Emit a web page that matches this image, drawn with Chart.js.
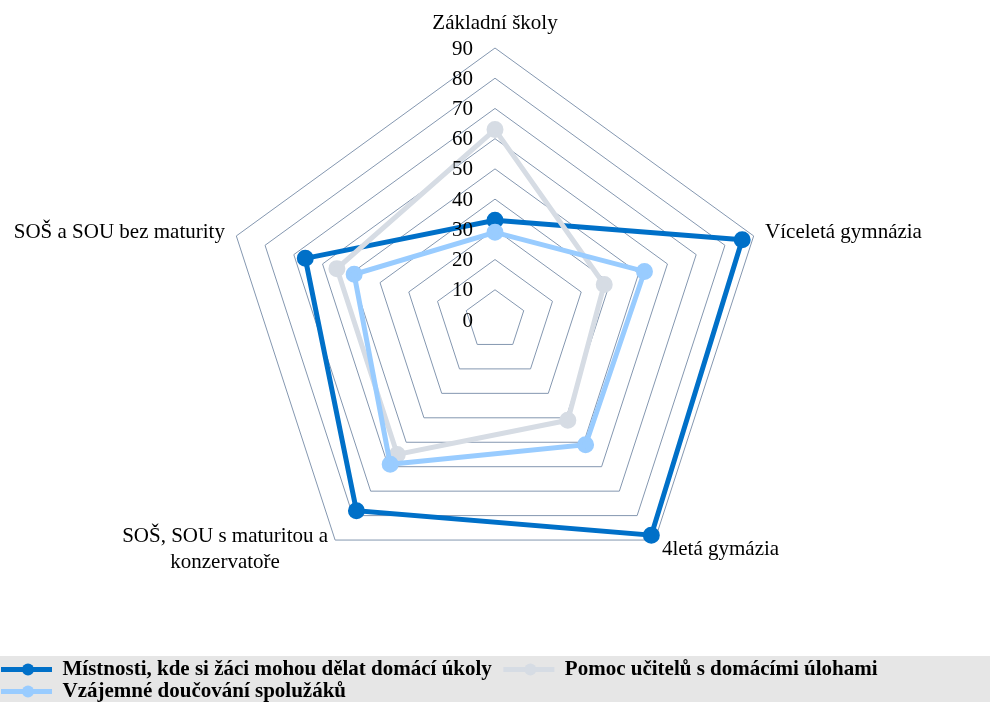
<!DOCTYPE html>
<html>
<head>
  <meta charset="utf-8">
  <title>Radar chart</title>
  <script src="https://cdn.jsdelivr.net/npm/chart.js"></script>
  <style>
    body { margin: 0; background: #fff; }
    .chart-container { width: 990px; height: 702px; }
  </style>
</head>
<body>
  <div class="chart-container">
    <canvas id="chartRadar"></canvas>
  </div>

  <script>
    // Categories (school types)
    const labels = [
      "Základní školy",
      "Víceletá gymnázia",
      "4letá gymázia",
      ["SOŠ, SOU s maturitou a", "konzervatoře"],
      "SOŠ a SOU bez maturity"
    ];

    // Series values
    const rooms = [33, 86, 88, 78, 66];
    const teacherHelp = [63, 38, 41, 55, 55];
    const peerTutoring = [29, 52, 51, 59, 49];

    const seriesNames = [
      "Místnosti, kde si žáci mohou dělat domácí úkoly",
      "Pomoc učitelů s domácími úlohami",
      "Vzájemné doučování spolužáků"
    ];

    const tickValues = [0, 10, 20, 30, 40, 50, 60, 70, 80, 90];

    const serif = "'Liberation Serif', 'Times New Roman', serif";

    // grey band behind the legend, circle markers on the legend lines,
    // tick labels left of the axis and point labels centred on their anchor (as Excel does)
    const extras = {
      id: 'extras',
      beforeDraw(chart) {
        const ctx = chart.ctx;
        const lg = chart.legend;
        const bandTop = lg.top + lg._computeTitleHeight() - 2;
        ctx.save();
        ctx.fillStyle = '#e6e6e6';
        ctx.fillRect(0, bandTop, chart.width, chart.height - bandTop);
        ctx.restore();
      },
      afterDraw(chart) {
        const ctx = chart.ctx;
        const lg = chart.legend;
        ctx.save();
        lg.legendHitBoxes.forEach((box, i) => {
          const ds = chart.data.datasets[lg.legendItems[i].datasetIndex];
          ctx.beginPath();
          ctx.fillStyle = ds.borderColor;
          ctx.arc(box.left + 27, box.top + box.height / 2, 6, 0, Math.PI * 2);
          ctx.fill();
        });

        const r = chart.scales.r;
        ctx.fillStyle = '#000';
        ctx.font = "21px " + serif;
        ctx.textBaseline = 'middle';

        // tick labels
        ctx.textAlign = 'right';
        tickValues.forEach(v => {
          const y = r.yCenter - r.getDistanceFromCenterForValue(v);
          ctx.fillText(String(v), r.xCenter - 22, y + 1);
        });

        // point labels
        const lineH = 26;
        labels.forEach((lab, i) => {
          const lines = Array.isArray(lab) ? lab : [lab];
          const pos = r.getPointPosition(i, r.drawingArea + 12);
          const dx = pos.x - r.xCenter;
          const blockW = Math.max(...lines.map(l => ctx.measureText(l).width));
          let cx;
          if (Math.abs(dx) < 1) cx = pos.x;
          else if (dx > 0) cx = pos.x + blockW / 2;
          else cx = pos.x - blockW / 2;
          let top = pos.y - lines.length * lineH / 2;
          if (Math.abs(dx) < 1) top = pos.y - lineH;
          ctx.textAlign = 'center';
          lines.forEach((l, k) => ctx.fillText(l, cx, top + lineH * (k + 0.5)));
        });
        ctx.restore();
      }
    };

    const ctxRadar = document.getElementById('chartRadar').getContext('2d');
    const chartRadar = new Chart(ctxRadar, {
      type: 'radar',
      data: {
        labels: labels,
        datasets: [
          {
            label: seriesNames[0],
            data: rooms,
            borderColor: '#0070c8',
            backgroundColor: '#0070c8',
            borderWidth: 5,
            pointRadius: 6,
            fill: false,
            order: 3
          },
          {
            label: seriesNames[1],
            data: teacherHelp,
            borderColor: '#d6dce4',
            backgroundColor: '#d6dce4',
            borderWidth: 5,
            pointRadius: 6,
            fill: false,
            order: 2
          },
          {
            label: seriesNames[2],
            data: peerTutoring,
            borderColor: '#99ccff',
            backgroundColor: '#99ccff',
            borderWidth: 5,
            pointRadius: 6,
            fill: false,
            order: 1
          }
        ]
      },
      options: {
        responsive: true,
        maintainAspectRatio: false,
        animation: false,
        layout: {
          padding: { top: 48, left: 0, right: 0, bottom: -10 }
        },
        plugins: {
          legend: {
            position: 'bottom',
            align: 'start',
            title: {
              display: true,
              text: ' ',
              font: { size: 10, lineHeight: 1 },
              padding: { top: 56, bottom: 0 }
            },
            labels: {
              boxWidth: 51,
              boxHeight: 5,
              padding: 1,
              color: '#000',
              font: { family: serif, size: 21, weight: 'bold' },
              sort: (a, b) => a.datasetIndex - b.datasetIndex,
              generateLabels: function(chart) {
                return chart.data.datasets.map((ds, i) => ({
                  text: ds.label + '  ',
                  fillStyle: ds.borderColor,
                  strokeStyle: ds.borderColor,
                  fontColor: '#000',
                  lineWidth: 0,
                  datasetIndex: i,
                  hidden: false
                }));
              }
            }
          },
          tooltip: { enabled: false }
        },
        scales: {
          r: {
            min: 0,
            max: 90,
            ticks: { stepSize: 10, display: false },
            grid: { color: '#8497b0', lineWidth: 1 },
            angleLines: { display: false },
            pointLabels: { display: false }
          }
        }
      },
      plugins: [extras]
    });
  </script>
</body>
</html>
